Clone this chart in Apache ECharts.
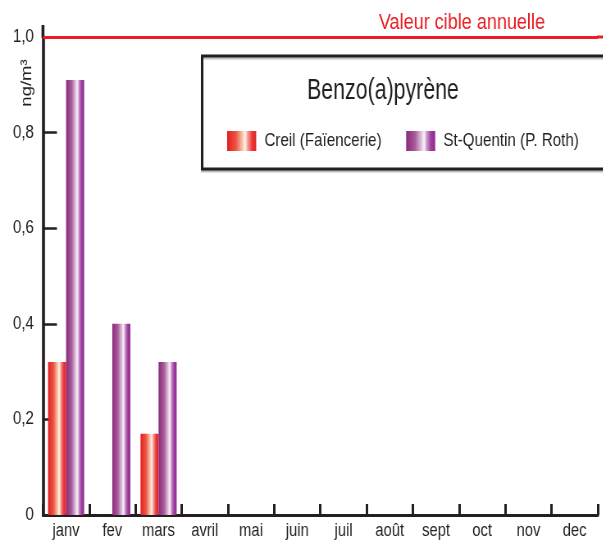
<!DOCTYPE html>
<html>
<head>
<meta charset="utf-8">
<script src="https://cdn.jsdelivr.net/npm/echarts@6/dist/echarts.min.js"></script>
<style>
  html, body { margin: 0; padding: 0; background: #fff; overflow: hidden; }
  /* the reference uses a condensed typeface: draw wider and squeeze horizontally */
  #chart { width: 735px; height: 540px; transform: scaleX(0.82); transform-origin: 0 0; }
</style>
</head>
<body>
<div id="chart"></div>
<script>
// ---- data ----
const months = ['janv', 'fev', 'mars', 'avril', 'mai', 'juin', 'juil', 'août', 'sept', 'oct', 'nov', 'dec'];
const creil = [0.32, null, 0.17, null, null, null, null, null, null, null, null, null];
const stQuentin = [0.91, 0.40, 0.32, null, null, null, null, null, null, null, null, null];
const seriesNames = ['Creil (Faïencerie)', 'St-Quentin (P. Roth)'];
const targetValue = 1.0;
const chartTitle = 'Benzo(a)pyrène';
const targetLabel = 'Valeur cible annuelle';
const yUnit = 'ng/m³';

const FONT = '"Liberation Sans", Arial, sans-serif';
const INK = '#231f20';
const RED = '#ed1c24';

function grad(stops) {
  return new echarts.graphic.LinearGradient(0, 0, 1, 0,
    stops.map(s => ({ offset: s[0], color: s[1] })));
}
const redGrad = grad([[0, '#e31e24'], [0.3, '#ec5540'], [0.55, '#fbd0b8'], [0.62, '#fff6ee'], [0.7, '#f7a5a0'], [0.85, '#eb3d3a'], [1, '#e31e24']]);
const purpleGrad = grad([[0, '#8a2a7a'], [0.3, '#a85a9a'], [0.55, '#e5d0e2'], [0.62, '#faf5fa'], [0.7, '#cfa0cf'], [0.85, '#a040a0'], [1, '#92278f']]);

const W = 735;
const GL = 52.4, GR = 6, GT = 37, GB = 25;

const chart = echarts.init(document.getElementById('chart'), null, { renderer: 'canvas', width: W, height: 540 });

const option = {
  backgroundColor: '#fff',
  animation: false,
  grid: { left: GL, right: GR, top: GT, bottom: GB, containLabel: false },
  graphic: [
    { type: 'rect', z: 1, shape: { x: 246.5, y: 56, width: 520, height: 113 },
      style: { fill: '#fff', stroke: INK, lineWidth: 3, shadowColor: 'rgba(0,0,0,0.25)', shadowBlur: 1, shadowOffsetY: 2 } },
    { type: 'line', z: 5, shape: { x1: GL, y1: 25, x2: GL, y2: 38 }, style: { stroke: INK, lineWidth: 3.6 } },
    { type: 'text', z: 5, x: 462, y: 23, style: { text: targetLabel, font: '22px ' + FONT, fill: RED, textAlign: 'left', textVerticalAlign: 'middle' } },
    { type: 'text', z: 5, x: 374.5, y: 91, scaleX: 0.867, style: { text: chartTitle, font: '30px ' + FONT, fill: INK, textAlign: 'left', textVerticalAlign: 'middle' } },
    { type: 'text', z: 5, x: 33, y: 83, rotation: Math.PI / 2, style: { text: yUnit, font: '18.5px ' + FONT, fill: INK, textAlign: 'center', textVerticalAlign: 'middle' } }
  ],
  legend: {
    left: 277, top: 131, itemWidth: 35.4, itemHeight: 20, itemGap: 30, padding: 0,
    z: 10,
    icon: 'rect',
    textStyle: { fontFamily: FONT, fontSize: 18.5, color: INK, padding: [0, 0, 0, 5] },
    data: seriesNames
  },
  xAxis: {
    type: 'category', data: months, boundaryGap: true,
    axisLine: { lineStyle: { color: INK, width: 3 } },
    axisTick: { show: true, inside: true, length: 11, lineStyle: { color: INK, width: 3 } },
    axisLabel: { fontFamily: FONT, fontSize: 18, color: INK, margin: 7, interval: 0 },
    splitLine: { show: false }
  },
  yAxis: {
    type: 'value', min: 0, max: 1.0, interval: 0.2,
    axisLine: { show: true, lineStyle: { color: INK, width: 3.6 } },
    axisTick: { show: true, inside: true, length: 17, lineStyle: { color: INK, width: 2.5 } },
    axisLabel: { fontFamily: FONT, fontSize: 18.5, color: INK, margin: 11,
      formatter: v => v === 0 ? '0' : v.toFixed(1).replace('.', ',') },
    splitLine: { show: false }
  },
  series: [
    { name: seriesNames[0], type: 'bar', data: creil, barWidth: 22, barGap: '0%',
      itemStyle: { color: redGrad },
      markLine: { silent: true, symbol: 'none', label: { show: false },
        lineStyle: { color: RED, width: 3, type: 'solid' },
        data: [{ yAxis: targetValue }] } },
    { name: seriesNames[1], type: 'bar', data: stQuentin, barWidth: 22, barGap: '0%',
      itemStyle: { color: purpleGrad } }
  ]
};
chart.setOption(option);

// extend the target line to the right edge of the picture, using the axis scale
const yT = chart.convertToPixel({ yAxisIndex: 0 }, targetValue);
chart.setOption({
  graphic: option.graphic.concat([
    { type: 'line', z: 5, shape: { x1: W - GR - 1, y1: yT, x2: W, y2: yT }, style: { stroke: RED, lineWidth: 3 } }
  ])
});
</script>
</body>
</html>
